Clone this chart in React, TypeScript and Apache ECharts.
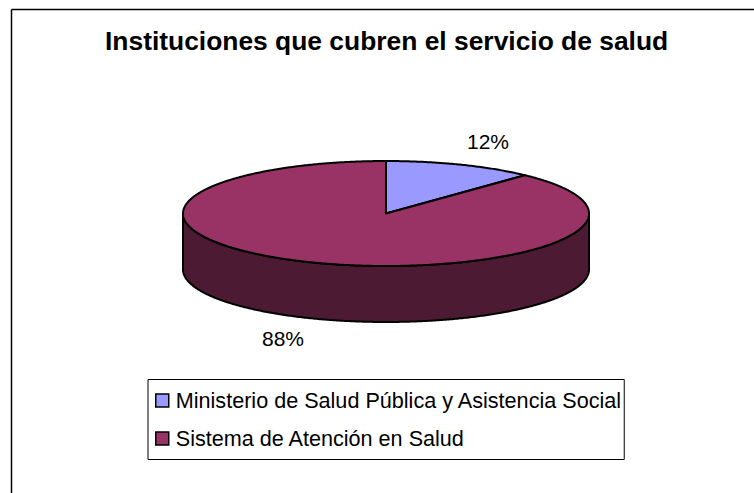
import React, { useEffect, useRef } from "react";
import * as echarts from "echarts";

const sliceNames = ["Ministerio de Salud Pública y Asistencia Social", "Sistema de Atención en Salud"];
const sliceValues = [12, 88];
const topColors = ["#9999FF", "#993366"];
const sideColors = ["#4D4D80", "#4D1A33"];
const labelAnchors = [[488, 141], [283, 338]];

const titleText = "Instituciones que cubren el servicio de salud";
const FONT = '"Liberation Sans", Arial, sans-serif';
const CX = 386;
const CY = 213.5;
const RX = 203;
const RY = 52.5;
const DEPTH = 56;

const total = sliceValues.reduce((a, b) => a + b, 0);

function arc(a0: number, a1: number, dy: number): number[][] {
  const pts: number[][] = [];
  const steps = Math.max(2, Math.ceil(Math.abs(a1 - a0) / (Math.PI / 360)));
  for (let i = 0; i <= steps; i++) {
    const a = a0 + ((a1 - a0) * i) / steps;
    pts.push([CX + RX * Math.sin(a), CY + dy - RY * Math.cos(a)]);
  }
  return pts;
}

function makeRender(index: number) {
  return (_params: any, api: any) => {
    const before = sliceValues.slice(0, index).reduce((a, b) => a + b, 0);
    const value = api.value(0);
    const a0 = (before / total) * Math.PI * 2;
    const a1 = ((before + value) / total) * Math.PI * 2;
    const children: any[] = [];
    const s0 = Math.max(a0, Math.PI / 2);
    const s1 = Math.min(a1, (Math.PI * 3) / 2);
    if (s1 > s0) {
      children.push({
        type: "polygon",
        shape: { points: [...arc(s0, s1, 0), ...arc(s1, s0, DEPTH)] },
        style: { fill: sideColors[index], stroke: "#000", lineWidth: 2 },
      });
    }
    children.push({
      type: "polygon",
      shape: { points: [[CX, CY], ...arc(a0, a1, 0)] },
      style: { fill: topColors[index], stroke: "#000", lineWidth: 2, lineJoin: "round" },
    });
    children.push({
      type: "text",
      style: {
        text: `${Math.round((value / total) * 100)}%`,
        x: labelAnchors[index][0],
        y: labelAnchors[index][1],
        align: "center",
        verticalAlign: "middle",
        fill: "#000",
        font: `21px ${FONT}`,
      },
    });
    return { type: "group", children };
  };
}

export default function App() {
  const ref = useRef<HTMLDivElement>(null);
  useEffect(() => {
    document.body.style.margin = "0";
    document.body.style.background = "#fff";
    const chart = echarts.init(ref.current!, null, { renderer: "svg" });
    chart.setOption({
      animation: false,
      backgroundColor: "#fff",
      title: {
        text: titleText,
        left: 105,
        top: 28,
        padding: 0,
        textStyle: { fontFamily: FONT, fontSize: 26.4, fontWeight: "bold", color: "#000" },
      },
      legend: {
        orient: "vertical",
        left: 148,
        top: 379.5,
        padding: [8, 2, 8, 7],
        itemGap: 12,
        itemWidth: 13,
        itemHeight: 13,
        icon: "rect",
        borderColor: "#000",
        borderWidth: 1,
        selectedMode: false,
        itemStyle: { borderColor: "#000", borderWidth: 1.5 },
        textStyle: { fontFamily: FONT, fontSize: 21.6, color: "#000", lineHeight: 25, padding: [1, 0, 0, 2] },
        data: sliceNames,
      },
      graphic: [
        { type: "line", shape: { x1: 11.5, y1: 9.5, x2: 754, y2: 9.5 }, style: { stroke: "#000", lineWidth: 1.5 }, silent: true },
        { type: "line", shape: { x1: 11.5, y1: 9.5, x2: 11.5, y2: 493 }, style: { stroke: "#000", lineWidth: 1.5 }, silent: true },
      ],
      series: sliceNames.map((name, i) => ({
        type: "custom",
        name,
        coordinateSystem: "none",
        silent: true,
        itemStyle: { color: topColors[i] },
        renderItem: makeRender(i),
        data: [[sliceValues[i]]],
      })),
    });
    return () => chart.dispose();
  }, []);
  return <div ref={ref} style={{ position: "absolute", left: 0, top: 0, width: 754, height: 493 }} />;
}
